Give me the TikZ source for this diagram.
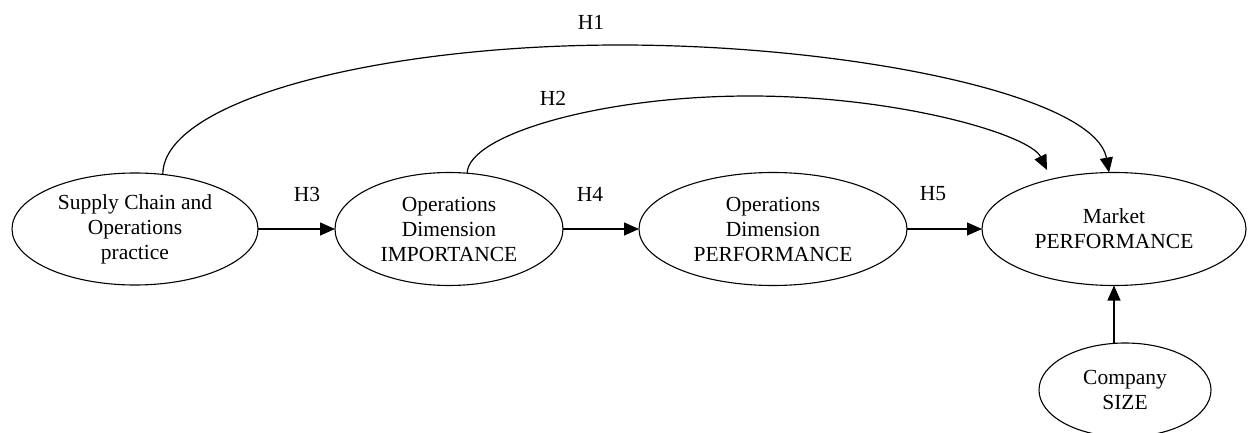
\documentclass[tikz,border=0pt]{standalone}
\usepackage{fontspec}
\setmainfont{Liberation Serif}
\usetikzlibrary{arrows.meta,shapes.geometric}
\begin{document}
\begin{tikzpicture}[x=1pt,y=-1pt,
  every node/.style={font=\fontsize{21.5}{25}\selectfont},
  oval/.style={ellipse,draw,line width=1.1pt,inner sep=0pt,outer sep=0pt,align=center},
  link/.style={line width=1.2pt,-{Triangle[length=15pt,width=13pt]}},
  hyp/.style={inner sep=0pt}]
\clip (0,0) rectangle (1251,433);
\useasboundingbox (0,0) rectangle (1251,433);
\node[oval,minimum width=246pt,minimum height=112pt] (s) at (135,229) {Supply Chain and\\Operations\\practice};
\node[oval,minimum width=228pt,minimum height=113pt] (i) at (449,229) {Operations\\Dimension\\IMPORTANCE};
\node[oval,minimum width=268pt,minimum height=113pt] (p) at (773,229) {Operations\\Dimension\\PERFORMANCE};
\node[oval,minimum width=264pt,minimum height=113pt] (m) at (1114,229) {Market\\PERFORMANCE};
\node[oval,minimum width=172pt,minimum height=94pt] (sz) at (1125,390) {Company\\SIZE};
\coordinate (h2end) at (1047,170);
\draw[link] (s.east) -- (i.west);
\draw[link] (i.east) -- (p.west);
\draw[link] (p.east) -- (m.west);
\draw[link] (sz.north -| m.south) -- (m.south);
\draw[link] (s.63) .. controls (163,100) and (380,45) .. (620,45) .. controls (850,45) and (1095,95) .. (m.95);
\draw[link] (i.72) .. controls (468,135) and (600,96) .. (750,96) .. controls (900,96) and (1030,135) .. (h2end);
\node[hyp] (l1) at (591,22) {H1};
\node[hyp] (l2) at (553,98) {H2};
\node[hyp] (l3) at (307,194) {H3};
\node[hyp] (l4) at (590,194) {H4};
\node[hyp] (l5) at (933,194) {H5};
\end{tikzpicture}
\end{document}
